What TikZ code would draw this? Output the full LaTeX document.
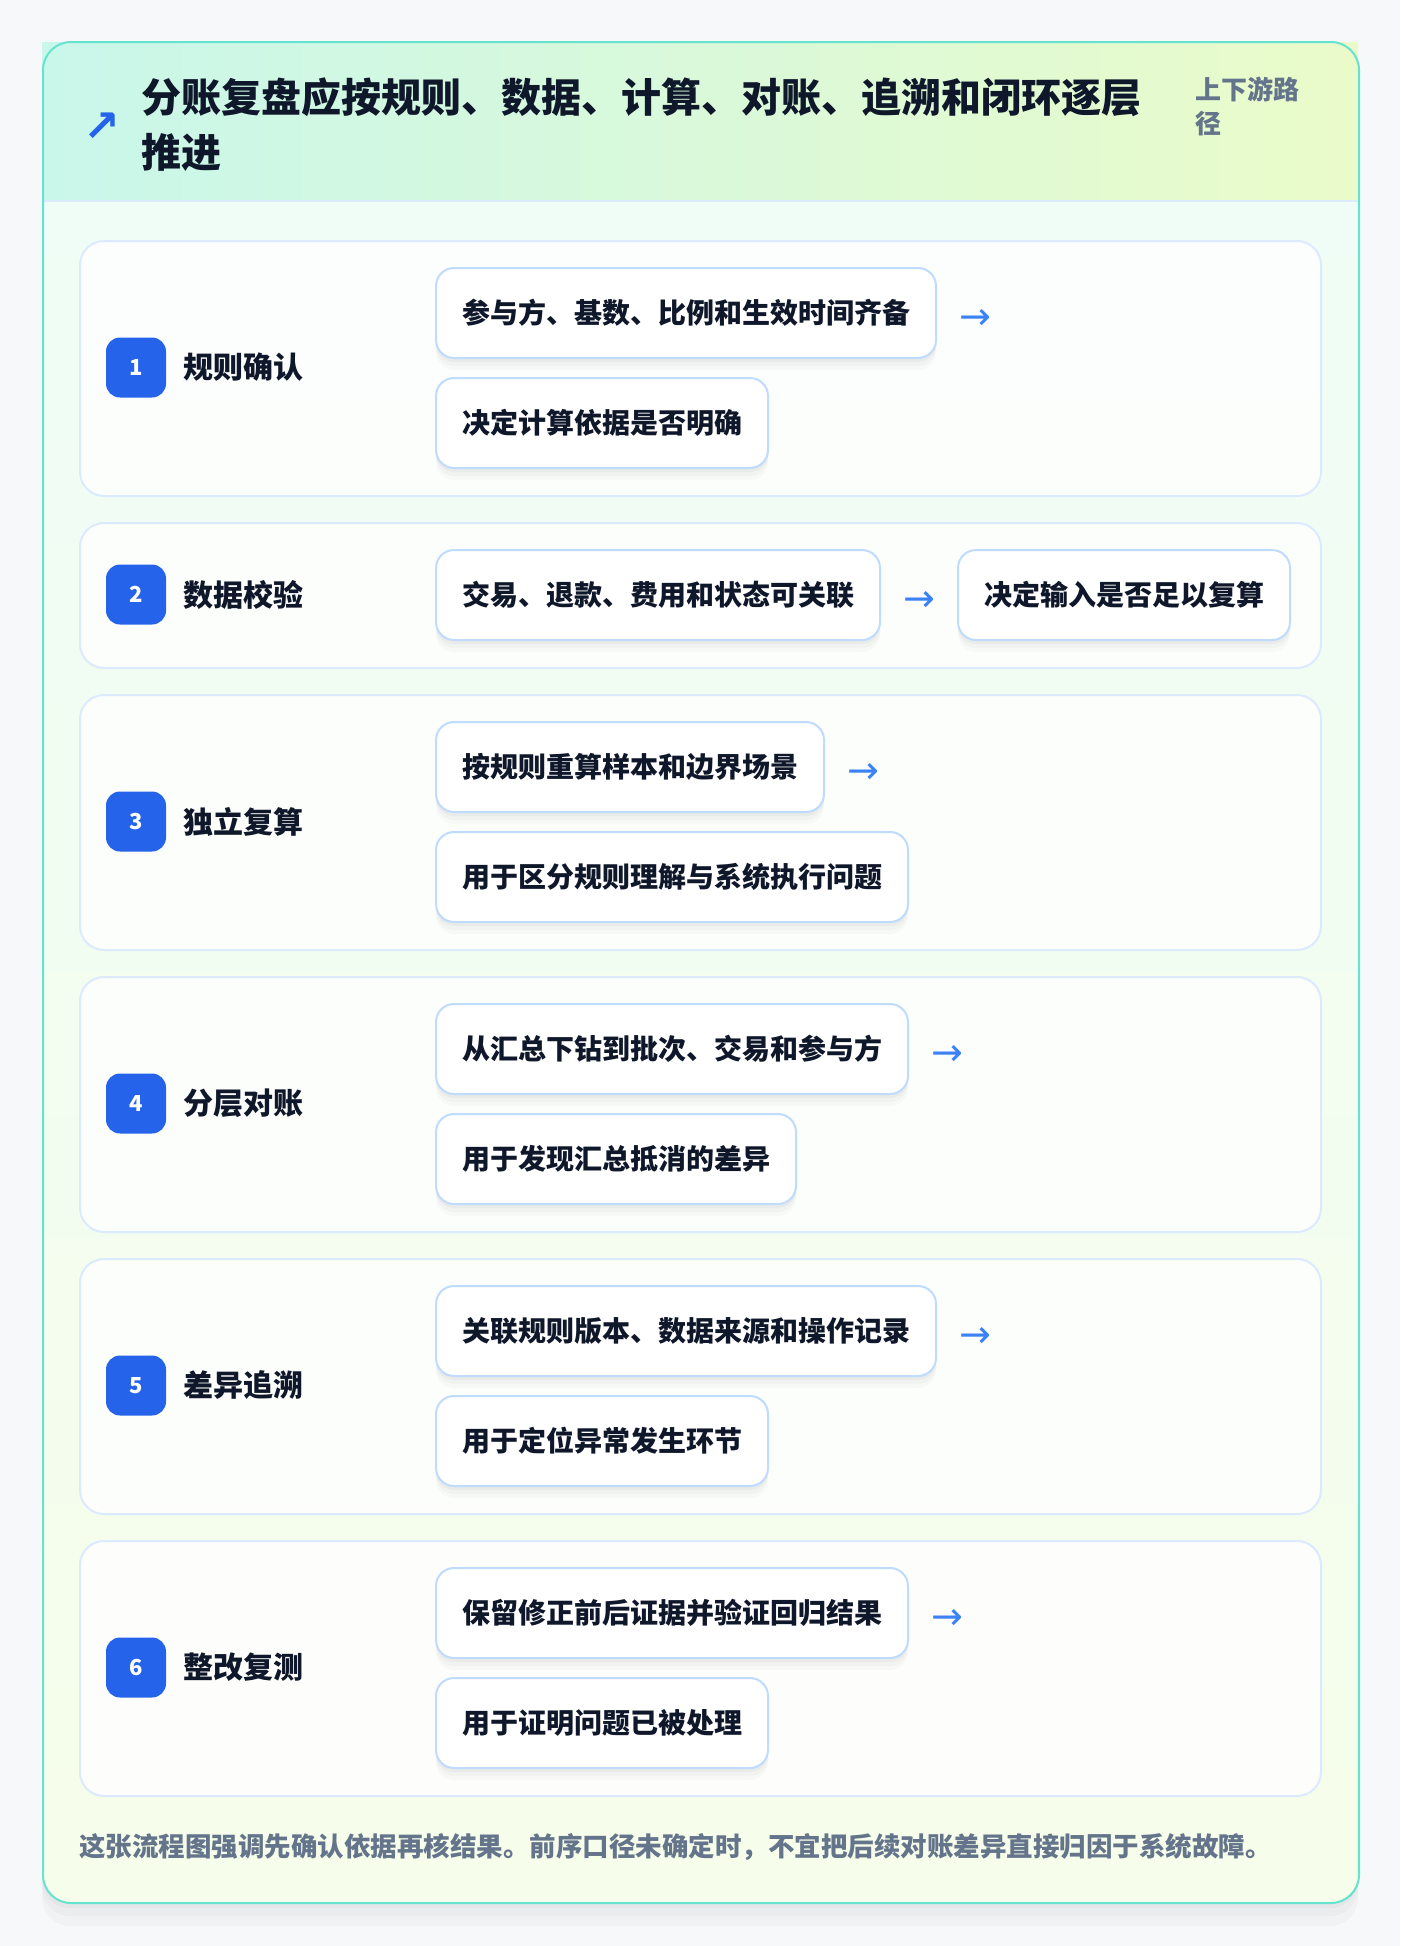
\documentclass[tikz,border=0pt]{standalone}
\usepackage{fontspec}
\setmainfont{Noto Sans CJK SC}
\newfontfamily\symfont{DejaVu Sans}
\usetikzlibrary{calc}
\definecolor{ink}{HTML}{0F172A}
\definecolor{slate}{HTML}{64748B}
\definecolor{badgeblue}{HTML}{2563EB}
\definecolor{arrowblue}{HTML}{3B82F6}
\definecolor{boxline}{HTML}{BFDBFE}
\definecolor{panelline}{HTML}{DBEAFE}
\definecolor{cardline}{HTML}{66E3CF}
\definecolor{hdrL}{HTML}{C9F7EA}
\definecolor{hdrR}{HTML}{EAFBC9}
\definecolor{bodyTop}{HTML}{EFFDF7}
\definecolor{bodyBot}{HTML}{F6FDEA}
\definecolor{pagebg}{HTML}{F7F8F9}
\tikzset{
  softshadow/.style={
    preaction={fill=black, fill opacity=0.02, draw=none, transform canvas={yshift=-12pt}},
    preaction={fill=black, fill opacity=0.025, draw=none, transform canvas={yshift=-8pt}},
    preaction={fill=black, fill opacity=0.03, draw=none, transform canvas={yshift=-4pt}}},
  panelbox/.style={draw=panelline, line width=2pt, fill=white, fill opacity=0.8, text opacity=1,
    rounded corners=24pt, minimum width=1241pt, anchor=north west, inner sep=0pt},
  badge/.style={fill=badgeblue, rounded corners=14pt, minimum width=60pt, minimum height=60pt,
    inner sep=0pt, text=white, font=\fontsize{22}{26}\selectfont\bfseries},
  steplabel/.style={anchor=west, inner sep=0pt, text=ink, font=\fontsize{30}{36}\selectfont\bfseries},
  itembox/.style={softshadow, draw=boxline, line width=2pt, fill=white, rounded corners=18pt,
    minimum height=90pt, inner xsep=26pt, inner ysep=0pt, anchor=north west, text=ink,
    font=\fontsize{28}{34}\selectfont\bfseries},
  flowarrow/.style={anchor=west, inner sep=0pt, text=arrowblue, font=\symfont\fontsize{38}{42}\selectfont},
}
\begin{document}
\begin{tikzpicture}[x=1pt,y=-1pt]
\useasboundingbox (0,0) rectangle (1400,1946);
\fill[pagebg] (0,0) rectangle (1400,1946);
% card
\node[anchor=north west, minimum width=1316pt, minimum height=1861pt, inner sep=0pt,
  rounded corners=28pt, top color=bodyTop, bottom color=bodyBot,
  preaction={fill=black, fill opacity=0.025, transform canvas={yshift=-24pt}},
  preaction={fill=black, fill opacity=0.025, transform canvas={yshift=-14pt}},
  preaction={fill=black, fill opacity=0.025, transform canvas={yshift=-6pt}}]
  (card) at (42,41) {};
% header
\node[anchor=north west, minimum width=1316pt, minimum height=159pt, inner sep=0pt,
  left color=hdrL, right color=hdrR] (hdr) at (42,42) {};
\draw[panelline, line width=2pt] (hdr.south west) -- (hdr.south east);
\node[draw=cardline, line width=2pt, anchor=north west, minimum width=1316pt, minimum height=1861pt,
  inner sep=0pt, rounded corners=28pt] (cardborder) at (42,41) {};
\node[anchor=center, inner sep=0pt, text=badgeblue, font=\symfont\fontsize{44}{50}\selectfont\bfseries] (icon) at (102,127) {↗};
\node[anchor=west, inner sep=0pt, text=ink, font=\fontsize{40}{48}\selectfont\bfseries] (title1) at (141,97) {分账复盘应按规则、数据、计算、对账、追溯和闭环逐层};
\node[anchor=west, inner sep=0pt, text=ink, font=\fontsize{40}{48}\selectfont\bfseries] (title2) at (141,152) {推进};
\node[anchor=west, inner sep=0pt, text=slate, font=\fontsize{26}{30}\selectfont\bfseries] (tag1) at (1195,89) {上下游路};
\node[anchor=west, inner sep=0pt, text=slate, font=\fontsize{26}{30}\selectfont\bfseries] (tag2) at (1195,124) {径};
% panel 1
\node[panelbox, minimum height=255pt] (p1) at (79,240) {};
\node[badge] (b1) at (136,367.5) {1};
\node[steplabel] (l1) at (183,367.5) {规则确认};
\node[itembox] (a1) at (435,267) {参与方、基数、比例和生效时间齐备};
\node[itembox] (c1) at (435,377) {决定计算依据是否明确};
\node[flowarrow] (r1) at ($(a1.east)+(22,6)$) {→};
% panel 2
\node[panelbox, minimum height=145pt] (p2) at (79,522) {};
\node[badge] (b2) at (136,594.5) {2};
\node[steplabel] (l2) at (183,594.5) {数据校验};
\node[itembox] (a2) at (435,549) {交易、退款、费用和状态可关联};
\node[flowarrow] (r2) at ($(a2.east)+(22,6)$) {→};
\node[itembox, anchor=north west] (c2) at (957,549) {决定输入是否足以复算};
% panel 3
\node[panelbox, minimum height=255pt] (p3) at (79,694) {};
\node[badge] (b3) at (136,821.5) {3};
\node[steplabel] (l3) at (183,821.5) {独立复算};
\node[itembox] (a3) at (435,721) {按规则重算样本和边界场景};
\node[itembox] (c3) at (435,831) {用于区分规则理解与系统执行问题};
\node[flowarrow] (r3) at ($(a3.east)+(22,6)$) {→};
% panel 4
\node[panelbox, minimum height=255pt] (p4) at (79,976) {};
\node[badge] (b4) at (136,1103.5) {4};
\node[steplabel] (l4) at (183,1103.5) {分层对账};
\node[itembox] (a4) at (435,1003) {从汇总下钻到批次、交易和参与方};
\node[itembox] (c4) at (435,1113) {用于发现汇总抵消的差异};
\node[flowarrow] (r4) at ($(a4.east)+(22,6)$) {→};
% panel 5
\node[panelbox, minimum height=255pt] (p5) at (79,1258) {};
\node[badge] (b5) at (136,1385.5) {5};
\node[steplabel] (l5) at (183,1385.5) {差异追溯};
\node[itembox] (a5) at (435,1285) {关联规则版本、数据来源和操作记录};
\node[itembox] (c5) at (435,1395) {用于定位异常发生环节};
\node[flowarrow] (r5) at ($(a5.east)+(22,6)$) {→};
% panel 6
\node[panelbox, minimum height=255pt] (p6) at (79,1540) {};
\node[badge] (b6) at (136,1667.5) {6};
\node[steplabel] (l6) at (183,1667.5) {整改复测};
\node[itembox] (a6) at (435,1567) {保留修正前后证据并验证回归结果};
\node[itembox] (c6) at (435,1677) {用于证明问题已被处理};
\node[flowarrow] (r6) at ($(a6.east)+(22,6)$) {→};
% footer
\node[anchor=west, inner sep=0pt, text=slate, font=\fontsize{26.5}{32}\selectfont\bfseries] (foot) at (79,1847) {这张流程图强调先确认依据再核结果。前序口径未确定时，不宜把后续对账差异直接归因于系统故障。};
\end{tikzpicture}
\end{document}
